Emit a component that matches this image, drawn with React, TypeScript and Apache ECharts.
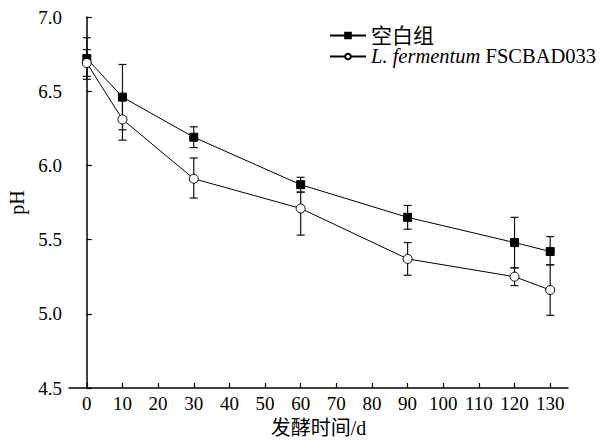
import React, { useEffect, useRef } from "react";
import * as echarts from "echarts";

const days = [0, 10, 30, 60, 90, 120, 130];
const xTicks = [0, 10, 20, 30, 40, 50, 60, 70, 80, 90, 100, 110, 120, 130];
const blankName = "空白组";
const blankPH = [6.72, 6.46, 6.19, 5.87, 5.65, 5.48, 5.42];
const blankLow = [6.58, 6.24, 6.12, 5.82, 5.57, 5.31, 5.33];
const blankHigh = [6.86, 6.68, 6.26, 5.92, 5.73, 5.65, 5.52];
const ferName = "L. fermentum FSCBAD033";
const ferPH = [6.69, 6.31, 5.91, 5.71, 5.37, 5.25, 5.16];
const ferLow = [6.6, 6.17, 5.78, 5.53, 5.26, 5.19, 4.99];
const ferHigh = [6.78, 6.45, 6.05, 5.82, 5.48, 5.31, 5.33];
const xTitle = "发酵时间/d";
const yTitle = "pH";

const FONT = "'Liberation Serif', 'Noto Sans CJK SC', serif";

function errSeries(low: number[], high: number[]) {
  return {
    type: "custom",
    silent: true,
    z: 1,
    data: days.map((d, i) => [d, low[i], high[i]]),
    renderItem: (params: any, api: any) => {
      const lo = api.coord([api.value(0), api.value(1)]);
      const hi = api.coord([api.value(0), api.value(2)]);
      const w = 4;
      const style = { stroke: "#111", lineWidth: 1.2 };
      return {
        type: "group",
        children: [
          { type: "line", shape: { x1: lo[0], y1: lo[1], x2: hi[0], y2: hi[1] }, style },
          { type: "line", shape: { x1: lo[0] - w, y1: lo[1], x2: lo[0] + w, y2: lo[1] }, style },
          { type: "line", shape: { x1: hi[0] - w, y1: hi[1], x2: hi[0] + w, y2: hi[1] }, style },
        ],
      };
    },
  };
}

export default function App() {
  const ref = useRef<HTMLDivElement>(null);
  useEffect(() => {
    if (!ref.current) return;
    const chart = echarts.init(ref.current, undefined, { renderer: "svg" });
    chart.setOption({
      animation: false,
      backgroundColor: "#fff",
      textStyle: { fontFamily: FONT },
      grid: { left: 69, right: 37, top: 17, bottom: 53, outerBoundsMode: "none", containLabel: false },
      legend: {
        orient: "vertical",
        left: 329,
        top: 25,
        padding: 0,
        itemWidth: 36,
        itemHeight: 7,
        itemGap: 0,
        textStyle: {
          fontFamily: FONT,
          fontSize: 21,
          lineHeight: 19,
          color: "#000",
          rich: {
            i: { fontStyle: "italic", fontFamily: FONT, fontSize: 20.5, lineHeight: 19, color: "#000" },
            r: { fontFamily: FONT, fontSize: 20.5, lineHeight: 19, color: "#000" },
          },
        },
        formatter: (name: string) => (name === ferName ? "{i|L. fermentum} {r|FSCBAD033}" : name),
        data: [blankName, ferName],
      },
      xAxis: {
        type: "value",
        min: -5,
        max: 135,
        name: xTitle,
        nameLocation: "middle",
        nameGap: 30,
        nameTextStyle: { fontFamily: FONT, fontSize: 20, color: "#000" },
        axisLine: { lineStyle: { color: "#000", width: 1.5 } },
        axisTick: { inside: true, length: 5, customValues: xTicks, lineStyle: { color: "#000", width: 1.2 } },
        axisLabel: {
          fontFamily: FONT,
          fontSize: 19,
          color: "#000",
          margin: 6,
          customValues: xTicks,
          formatter: (v: number) => String(v),
        },
        splitLine: { show: false },
      },
      yAxis: {
        type: "value",
        min: 4.5,
        max: 7.0,
        interval: 0.5,
        name: yTitle,
        nameLocation: "middle",
        nameGap: 37,
        nameTextStyle: { fontFamily: FONT, fontSize: 20, color: "#000" },
        axisLine: { show: true, lineStyle: { color: "#000", width: 1.5 } },
        axisTick: { show: true, inside: true, length: 5, lineStyle: { color: "#000", width: 1.2 } },
        axisLabel: {
          fontFamily: FONT,
          fontSize: 19,
          color: "#000",
          margin: 7,
          formatter: (v: number) => v.toFixed(1),
        },
        splitLine: { show: false },
      },
      series: [
        errSeries(blankLow, blankHigh),
        errSeries(ferLow, ferHigh),
        {
          name: blankName,
          type: "line",
          z: 3,
          data: days.map((d, i) => [d, blankPH[i]]),
          symbol: "rect",
          symbolSize: 8,
          lineStyle: { color: "#000", width: 1 },
          itemStyle: { color: "#000", borderColor: "#000", borderWidth: 1 },
        },
        {
          name: ferName,
          type: "line",
          z: 3,
          data: days.map((d, i) => [d, ferPH[i]]),
          symbol: "circle",
          symbolSize: 9,
          lineStyle: { color: "#000", width: 1 },
          itemStyle: { color: "#fff", borderColor: "#000", borderWidth: 1 },
        },
      ],
    });
    return () => chart.dispose();
  }, []);
  return <div ref={ref} style={{ position: "absolute", left: 0, top: 0, width: 605, height: 441 }} />;
}
